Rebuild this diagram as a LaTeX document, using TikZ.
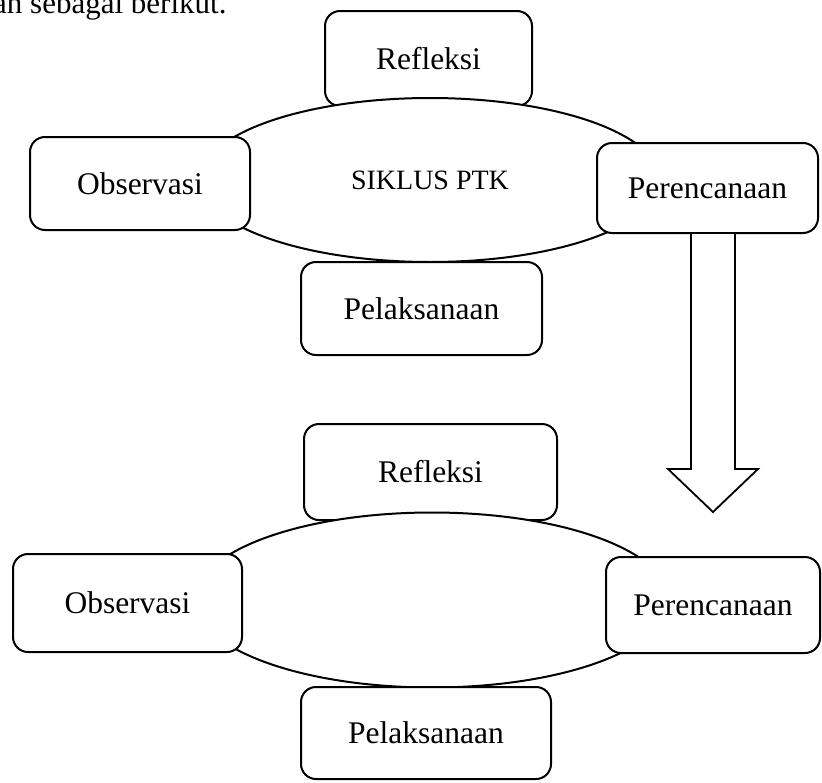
\documentclass[tikz,border=0pt]{standalone}
\usepackage{fontspec}
\setmainfont{Liberation Serif}
\usetikzlibrary{calc,shapes.geometric}
\begin{document}
\begin{tikzpicture}[x=1pt,y=-1pt,
  box/.style={draw=black, fill=white, line width=2pt, rounded corners=15pt, inner sep=0pt,
    font=\fontsize{31.5}{36}\selectfont},
  oval/.style={draw=black, fill=white, line width=2pt, ellipse, inner sep=0pt,
    font=\fontsize{28}{32}\selectfont},
  blockarrow/.style={draw=black, fill=white, line width=1.8pt, line join=miter}
]
\useasboundingbox (0,0) rectangle (822,782);
\node[anchor=base west, inner sep=0pt, font=\fontsize{31}{34}\selectfont] (intro) at (-7,13) {an sebagai berikut.};

% top cycle
\node[box, minimum width=207pt, minimum height=95pt] (r1) at (428.5,58.5) {Refleksi};
\node[oval, minimum width=460pt, minimum height=164pt] (e1) at (430,180) {SIKLUS PTK};
\node[box, minimum width=220pt, minimum height=93pt] (o1) at (140,183.5) {Observasi};
\node[box, minimum width=221pt, minimum height=90pt] (p1) at (707.5,188) {Perencanaan};
\node[box, minimum width=241pt, minimum height=93pt] (l1) at (421.5,308.5) {Pelaksanaan};

% arrow
\coordinate (tip) at (713,512);
\draw[blockarrow] ($(p1.south)+(-16.5,0)$) -- ($(p1.south)+(-16.5,235)$) -- ($(p1.south)+(-39.5,235)$)
  -- (tip) -- ($(p1.south)+(50.5,235)$) -- ($(p1.south)+(27.5,235)$) -- ($(p1.south)+(27.5,0)$);

% bottom cycle
\node[box, minimum width=253pt, minimum height=96pt] (r2) at (430.5,472) {Refleksi};
\node[oval, minimum width=474pt, minimum height=175pt] (e2) at (432,600) {};
\node[box, minimum width=229pt, minimum height=98pt] (o2) at (127.5,603) {Observasi};
\node[box, minimum width=214pt, minimum height=96pt] (p2) at (713,605) {Perencanaan};
\node[box, minimum width=250pt, minimum height=92pt] (l2) at (426,733) {Pelaksanaan};
\end{tikzpicture}
\end{document}
